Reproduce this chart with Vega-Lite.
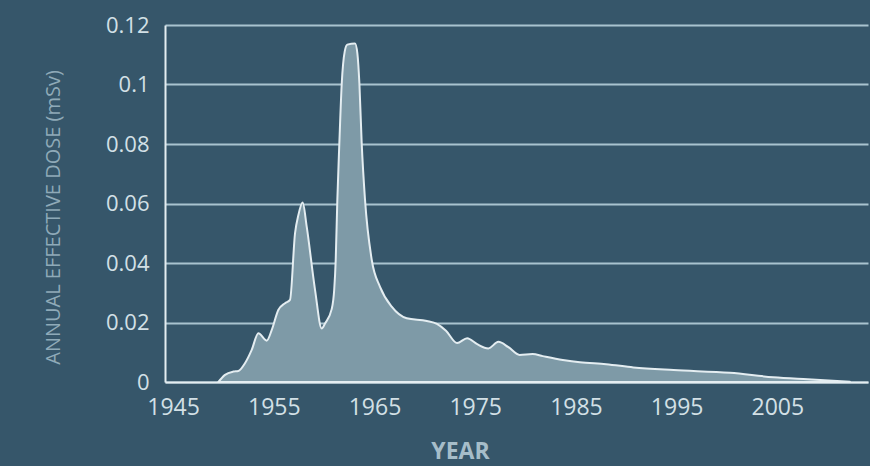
{
  "$schema": "https://vega.github.io/schema/vega-lite/v6.json",
  "width": 703,
  "height": 357,
  "autosize": {"type": "none"},
  "padding": {"left": 165, "top": 25, "right": 2, "bottom": 84},
  "background": "#36566a",
  "config": {
    "view": {"stroke": null},
    "font": "Open Sans"
  },
  "data": {
    "values": [
      {"year": 1949.5, "dose": 0},
      {"year": 1950.16, "dose": 0.0024},
      {"year": 1950.98, "dose": 0.0035},
      {"year": 1951.48, "dose": 0.0037},
      {"year": 1952.14, "dose": 0.0063},
      {"year": 1952.81, "dose": 0.0108},
      {"year": 1953.47, "dose": 0.0164},
      {"year": 1954.3, "dose": 0.0139},
      {"year": 1954.8, "dose": 0.0175},
      {"year": 1955.45, "dose": 0.0242},
      {"year": 1956.12, "dose": 0.0265},
      {"year": 1956.61, "dose": 0.0276},
      {"year": 1957.11, "dose": 0.05},
      {"year": 1957.44, "dose": 0.0561},
      {"year": 1957.87, "dose": 0.0603},
      {"year": 1958.27, "dose": 0.0522},
      {"year": 1959.1, "dose": 0.0309},
      {"year": 1959.76, "dose": 0.018},
      {"year": 1960.09, "dose": 0.0197},
      {"year": 1960.75, "dose": 0.0245},
      {"year": 1961.0, "dose": 0.031},
      {"year": 1961.15, "dose": 0.041},
      {"year": 1961.31, "dose": 0.0612},
      {"year": 1961.51, "dose": 0.0802},
      {"year": 1961.75, "dose": 0.1004},
      {"year": 1962.05, "dose": 0.1112},
      {"year": 1962.3, "dose": 0.1134},
      {"year": 1963.07, "dose": 0.1138},
      {"year": 1963.3, "dose": 0.1105},
      {"year": 1963.5, "dose": 0.1004},
      {"year": 1963.73, "dose": 0.0802},
      {"year": 1964.06, "dose": 0.0612},
      {"year": 1964.73, "dose": 0.041},
      {"year": 1965.55, "dose": 0.032},
      {"year": 1966.71, "dose": 0.0253},
      {"year": 1968.2, "dose": 0.0214},
      {"year": 1970.2, "dose": 0.0205},
      {"year": 1971.2, "dose": 0.0195},
      {"year": 1972.1, "dose": 0.0172},
      {"year": 1973.2, "dose": 0.0131},
      {"year": 1974.2, "dose": 0.0147},
      {"year": 1975.2, "dose": 0.0127},
      {"year": 1976.3, "dose": 0.0113},
      {"year": 1977.3, "dose": 0.0135},
      {"year": 1978.3, "dose": 0.0117},
      {"year": 1979.4, "dose": 0.0091},
      {"year": 1980.7, "dose": 0.0094},
      {"year": 1981.7, "dose": 0.0087},
      {"year": 1983.7, "dose": 0.0074},
      {"year": 1985.4, "dose": 0.0066},
      {"year": 1988.0, "dose": 0.006},
      {"year": 1990.7, "dose": 0.0049},
      {"year": 1994.7, "dose": 0.004},
      {"year": 2000.3, "dose": 0.0031},
      {"year": 2004.6, "dose": 0.0016},
      {"year": 2008.0, "dose": 0.0009},
      {"year": 2012.2, "dose": 0.0001}
    ]
  },
  "mark": {
    "type": "area",
    "interpolate": "monotone",
    "fill": "#7e9aa7",
    "fillOpacity": 1,
    "stroke": "#e4edf1",
    "strokeWidth": 2,
    "strokeJoin": "round"
  },
  "encoding": {
    "x": {
      "field": "year",
      "type": "quantitative",
      "scale": {"domain": [1944.2, 2014], "nice": false, "zero": false},
      "axis": {
        "values": [1945, 1955, 1965, 1975, 1985, 1995, 2005],
        "format": "d",
        "grid": false,
        "ticks": false,
        "domain": true,
        "domainColor": "#e4edf1",
        "domainWidth": 2,
        "labelColor": "#d3e0e6",
        "labelFontSize": 23,
        "labelPadding": 14,
        "title": "YEAR",
        "titleColor": "#a6bdc9",
        "titleFontSize": 23,
        "titleFontWeight": "bold",
        "titleX": 295,
        "titleY": 69,
        "titleBaseline": "middle"
      }
    },
    "y": {
      "field": "dose",
      "type": "quantitative",
      "scale": {"domain": [0, 0.12], "nice": false},
      "axis": {
        "values": [0, 0.02, 0.04, 0.06, 0.08, 0.1, 0.12],
        "labelExpr": "datum.value === 0 ? '0' : format(datum.value, '.2~f')",
        "grid": true,
        "gridColor": "#a9c3cf",
        "gridWidth": 2,
        "ticks": false,
        "domain": true,
        "domainColor": "#e4edf1",
        "domainWidth": 2,
        "labelColor": "#d3e0e6",
        "labelFontSize": 22,
        "labelPadding": 16,
        "title": "ANNUAL EFFECTIVE DOSE (mSv)",
        "titleColor": "#8faab8",
        "titleFontSize": 20,
        "titleFontWeight": "normal",
        "titleAngle": -90,
        "titleX": -112,
        "titleY": 192,
        "titleBaseline": "middle",
        "titleAlign": "center"
      }
    }
  }
}
